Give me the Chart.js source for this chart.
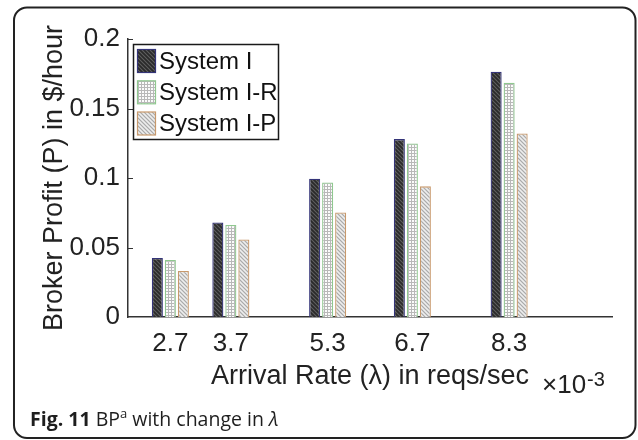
<!DOCTYPE html>
<html><head><meta charset="utf-8">
<script src="https://cdn.jsdelivr.net/npm/chart.js@4"></script>
<style>html,body{margin:0;padding:0;background:#fff}#wrap{position:relative;width:638px;height:440px}</style>
</head><body><div id="wrap"><canvas id="c" width="638" height="440"></canvas></div>
<script>
const arrivalRates = [2.7, 3.7, 5.3, 6.7, 8.3];
const systemI  = [0.0424, 0.0680, 0.0995, 0.1280, 0.1765];
const systemIR = [0.0410, 0.0662, 0.0968, 0.1249, 0.1686];
const systemIP = [0.0331, 0.0558, 0.0752, 0.0940, 0.1321];
const seriesNames = ['System I', 'System I-R', 'System I-P'];
const yTickValues = [0, 0.05, 0.1, 0.15, 0.2];

const FONT = '"Liberation Sans", Arial, Helvetica, sans-serif';

function makePattern(w, h, draw) {
  const c = document.createElement('canvas');
  c.width = w; c.height = h;
  const x = c.getContext('2d');
  draw(x, w, h);
  return x.createPattern(c, 'repeat');
}
const patDark = makePattern(4, 4, (x, w, h) => {
  x.fillStyle = '#383838'; x.fillRect(0, 0, w, h);
  x.fillStyle = '#5c5c5c';
  for (let i = 0; i < 4; i++) x.fillRect(i, i % 4, 1, 1);
  x.fillStyle = '#2a2a2a';
  for (let i = 0; i < 4; i++) x.fillRect(i, (i + 2) % 4, 1, 1);
});
const patGrid = makePattern(3, 3, (x, w, h) => {
  x.fillStyle = '#fbfbfb'; x.fillRect(0, 0, w, h);
  x.fillStyle = '#b8b8b8';
  x.fillRect(0, 0, 3, 1); x.fillRect(0, 0, 1, 3);
});
const patLight = makePattern(4, 4, (x, w, h) => {
  x.fillStyle = '#d6d6d6'; x.fillRect(0, 0, w, h);
  x.fillStyle = '#ababab';
  for (let i = 0; i < 4; i++) x.fillRect(i, i % 4, 1, 1);
  x.fillStyle = '#eeeeee';
  for (let i = 0; i < 4; i++) x.fillRect(i, (i + 2) % 4, 1, 1);
});
const fills = [patDark, patGrid, patLight];
const borders = ['#343478', '#8fc88f', '#c8996c'];
const seriesValues = [systemI, systemIR, systemIP];

const framePlugin = {
  id: 'frame',
  beforeDraw(chart) {
    const ctx = chart.ctx;
    ctx.save();
    ctx.fillStyle = '#fff';
    ctx.fillRect(0, 0, chart.width, chart.height);
    ctx.restore();
  },
  beforeDatasetsDraw(chart) {
    const ctx = chart.ctx, xs = chart.scales.x, ys = chart.scales.y;
    ctx.save();
    ctx.strokeStyle = '#333'; ctx.lineWidth = 1;
    yTickValues.forEach(v => {
      if (v === 0) return;
      const py = Math.round(ys.getPixelForValue(v)) + 0.5;
      ctx.beginPath(); ctx.moveTo(xs.left, py); ctx.lineTo(xs.left + 5, py); ctx.stroke();
    });
    arrivalRates.forEach(v => {
      const px = Math.round(xs.getPixelForValue(v)) + 0.5;
      ctx.beginPath(); ctx.moveTo(px, ys.bottom); ctx.lineTo(px, ys.bottom - 5); ctx.stroke();
    });
    ctx.restore();
  },
  afterDraw(chart) {
    const ctx = chart.ctx;
    ctx.save();
    // outer rounded frame
    const L = 14, T = 7.5, R = 635.5, B = 438, r = 13;
    ctx.strokeStyle = '#222'; ctx.lineWidth = 2;
    ctx.beginPath();
    ctx.moveTo(L + r, T); ctx.lineTo(R - r, T); ctx.arcTo(R, T, R, T + r, r);
    ctx.lineTo(R, B - r); ctx.arcTo(R, B, R - r, B, r);
    ctx.lineTo(L + r, B); ctx.arcTo(L, B, L, B - r, r);
    ctx.lineTo(L, T + r); ctx.arcTo(L, T, L + r, T, r);
    ctx.closePath(); ctx.stroke();

    // legend
    const lx = 133.5, ly = 44.5, lw = 145, lh = 95;
    ctx.fillStyle = '#fff'; ctx.fillRect(lx, ly, lw, lh);
    ctx.strokeStyle = '#1a1a1a'; ctx.lineWidth = 1.5;
    ctx.strokeRect(lx, ly, lw, lh);
    const rowsY = [49.5, 80.8, 112];
    ctx.font = '24px ' + FONT;
    ctx.textBaseline = 'middle'; ctx.textAlign = 'left';
    chart.data.datasets.forEach((ds, i) => {
      ctx.fillStyle = ds.backgroundColor;
      ctx.fillRect(137.5, rowsY[i], 18, 23);
      ctx.strokeStyle = ds.borderColor; ctx.lineWidth = 1.2;
      ctx.strokeRect(137.5, rowsY[i], 18, 23);
      ctx.fillStyle = '#111';
      ctx.fillText(ds.label, 159, rowsY[i] + 12.5);
    });

    // x10^-3 exponent
    ctx.fillStyle = '#222';
    ctx.textBaseline = 'alphabetic';
    ctx.font = '26px ' + FONT;
    ctx.fillText('\u00d710', 542, 393);
    const w = ctx.measureText('\u00d710').width;
    ctx.font = '20px ' + FONT;
    ctx.fillText('-3', 542 + w + 1, 386);

    // caption
    ctx.fillStyle = '#1e1e1e';
    let cx = 30; const cy = 426;
    ctx.font = 'bold 19.5px "Open Sans", sans-serif';
    ctx.fillText('Fig. 11', cx, cy); cx += ctx.measureText('Fig. 11 ').width;
    ctx.font = '19.5px "Open Sans", sans-serif';
    ctx.fillText('BP', cx, cy); cx += ctx.measureText('BP').width;
    ctx.font = '13px "Open Sans", sans-serif';
    ctx.fillText('a', cx, cy - 8); cx += ctx.measureText('a').width;
    ctx.font = '19.5px "Open Sans", sans-serif';
    ctx.fillText(' with change in ', cx, cy); cx += ctx.measureText(' with change in ').width;
    ctx.font = 'italic 19.5px "Open Sans", sans-serif';
    ctx.fillText('\u03bb', cx, cy);
    ctx.restore();
  }
};

new Chart(document.getElementById('c'), {
  type: 'bar',
  data: {
    datasets: seriesValues.map((vals, i) => ({
      label: seriesNames[i],
      data: arrivalRates.map((x, j) => ({ x: x, y: vals[j] })),
      backgroundColor: fills[i],
      borderColor: borders[i],
      borderWidth: 1.3,
      categoryPercentage: 0.645,
      barPercentage: 0.85
    }))
  },
  options: {
    responsive: false,
    animation: false,
    devicePixelRatio: 1,
    layout: { padding: { left: 0, right: 26, top: 39, bottom: 0 } },
    plugins: { legend: { display: false }, tooltip: { enabled: false } },
    scales: {
      x: {
        type: 'linear', min: 2, max: 10, offset: false,
        grid: { display: false, drawTicks: false },
        border: { display: true, color: '#333', width: 1.5 },
        afterBuildTicks: (s) => { s.ticks = arrivalRates.map(v => ({ value: v })); },
        afterFit: (s) => { s.height = 123; },
        ticks: {
          autoSkip: false, maxRotation: 0, padding: 11, color: '#222',
          font: { family: FONT, size: 26 },
          callback: (v) => Number(v).toFixed(1)
        },
        title: {
          display: true, text: 'Arrival Rate (\u03bb) in reqs/sec', color: '#222',
          font: { family: FONT, size: 27 }, padding: { top: 0, bottom: 47 }
        }
      },
      y: {
        min: 0, max: 0.2,
        grid: { display: false, drawTicks: false },
        border: { display: true, color: '#333', width: 1.5 },
        afterBuildTicks: (s) => { s.ticks = yTickValues.map(v => ({ value: v })); },
        afterFit: (s) => { s.width = 128; },
        ticks: {
          padding: 8, color: '#222',
          font: { family: FONT, size: 26 },
          callback: (v) => String(Number(Number(v).toFixed(2)))
        },
        title: {
          display: true, text: 'Broker Profit (P) in $/hour', color: '#222',
          font: { family: FONT, size: 27 }, padding: { top: 38, bottom: 0 }
        }
      }
    }
  },
  plugins: [framePlugin]
});
</script>
</body></html>
